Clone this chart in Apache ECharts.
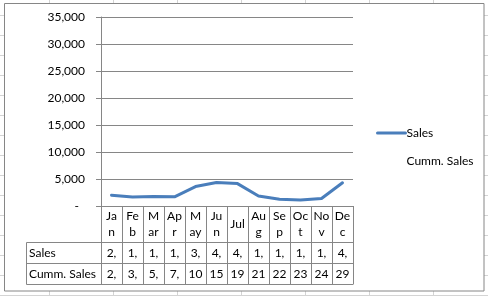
<!DOCTYPE html>
<html><head><meta charset="utf-8">
<script src="https://cdn.jsdelivr.net/npm/echarts@6/dist/echarts.min.js"></script>
<style>html,body{margin:0;padding:0;background:#fff}#c{width:488px;height:296px}</style>
</head><body><div id="c"></div>
<script>
const months = ['Jan','Feb','Mar','Apr','May','Jun','Jul','Aug','Sep','Oct','Nov','Dec'];
const headerLabels = ['Ja\nn','Fe\nb','M\nar','Ap\nr','M\nay','Ju\nn','Jul','Au\ng','Se\np','Oc\nt','No\nv','De\nc'];
const seriesNames = ['Sales','Cumm. Sales'];
const sales = [2000,1650,1750,1700,3600,4350,4150,1850,1250,1100,1400,4300];
const cummSales = [2000,3650,5400,7100,10700,15050,19200,21050,22300,23400,24800,29100];
const yMin = 0, yMax = 35000, yInterval = 5000;

const FONT = 'Lato';
const GRAY = '#868686';
const BLUE = '#4a7ebb';
const fmt = v => String(Math.round(v)).replace(/\B(?=(\d{3})+(?!\d))/g, ',');

const chart = echarts.init(document.getElementById('c'), null, {renderer:'canvas'});

// layout constants
const gridLeft = 101, gridTop = 17, gridRight = 135, gridBottom = 90;
const axisY = 296 - gridBottom;
const headH = 36, rowH = 21;
const tableLeft = 26.5;
const gridRightX = 488 - gridRight;

const bg = [];
[49,113,177,241,305,369,433].forEach(x => bg.push({type:'line', z:-2, silent:true,
  shape:{x1:x+0.5,y1:0,x2:x+0.5,y2:296}, style:{stroke:'#d4d4d4', lineWidth:1}}));
for (let y = 15; y < 296; y += 20) bg.push({type:'line', z:-2, silent:true,
  shape:{x1:0,y1:y+0.5,x2:488,y2:y+0.5}, style:{stroke:'#d4d4d4', lineWidth:1}});
bg.push({type:'rect', z:-1, silent:true, shape:{x:4.5,y:3.5,width:479.5,height:287.5},
  style:{fill:'#fff', stroke:GRAY, lineWidth:1}});
// table lines in row-label column
[axisY+headH, axisY+headH+rowH, axisY+headH+2*rowH].forEach(y => bg.push({type:'line', silent:true,
  shape:{x1:tableLeft, y1:y+0.5, x2:gridLeft, y2:y+0.5}, style:{stroke:GRAY, lineWidth:1}}));
bg.push({type:'line', silent:true, shape:{x1:gridLeft, y1:axisY+headH+2*rowH+0.5, x2:gridRightX+0.5, y2:axisY+headH+2*rowH+0.5}, style:{stroke:GRAY, lineWidth:1}});
bg.push({type:'line', silent:true, shape:{x1:tableLeft, y1:axisY+headH+0.5, x2:tableLeft, y2:axisY+headH+2*rowH+0.5}, style:{stroke:GRAY, lineWidth:1}});
seriesNames.forEach((n, i) => bg.push({type:'text', silent:true, x:29, y:axisY+headH+rowH*i+rowH/2+1,
  style:{text:n, font:'12px ' + FONT, fill:'#000', verticalAlign:'middle', align:'left'}}));

const rowAxis = (offset, values) => ({
  type:'category', data:months, position:'bottom', offset:offset, boundaryGap:true,
  axisLine:{show:true, lineStyle:{color:GRAY, width:1}},
  axisTick:{show:true, length:rowH, interval:0, lineStyle:{color:GRAY}},
  axisLabel:{interval:0, formatter:(v,i)=>fmt(values[i]), width:15, overflow:'truncate', ellipsis:'',
    color:'#000', fontFamily:FONT, fontSize:12, verticalAlign:'middle', margin:11},
  splitLine:{show:false}
});

chart.setOption({
  animation:false,
  textStyle:{fontFamily:FONT},
  grid:{left:gridLeft, top:gridTop, right:gridRight, bottom:gridBottom, outerBoundsMode:'none'},
  legend:{orient:'vertical', left:371, top:122, itemWidth:28, itemHeight:14, itemGap:16,
    textStyle:{fontFamily:FONT, fontSize:12, color:'#000', padding:[0,0,0,-4]},
    data:[{name:seriesNames[0], itemStyle:{opacity:0}, lineStyle:{width:3, color:BLUE}},
          {name:seriesNames[1], lineStyle:{opacity:0}, itemStyle:{opacity:0}}]},
  xAxis:[
    {type:'category', data:months, boundaryGap:true,
     axisLine:{show:true, lineStyle:{color:GRAY, width:1}},
     axisTick:{show:true, length:headH, interval:0, lineStyle:{color:GRAY}},
     axisLabel:{interval:0, formatter:(v,i)=>headerLabels[i], color:'#000', fontFamily:FONT, fontSize:12,
       lineHeight:16, verticalAlign:'middle', margin:18},
     splitLine:{show:false}},
    rowAxis(headH, sales),
    rowAxis(headH+rowH, cummSales)
  ],
  yAxis:{type:'value', min:yMin, max:yMax, interval:yInterval,
    axisLine:{show:true, lineStyle:{color:GRAY, width:1}},
    axisTick:{show:true, length:5, lineStyle:{color:GRAY}},
    axisLabel:{formatter:v => v === 0 ? '-  ' : fmt(v), color:'#000', fontFamily:FONT, fontSize:12, margin:16},
    splitLine:{show:true, lineStyle:{color:GRAY, width:1}}},
  series:[
    {name:seriesNames[0], type:'line', data:sales, symbol:'none', smooth:false,
     lineStyle:{color:BLUE, width:3, join:'round', cap:'round'}, itemStyle:{color:BLUE}},
    {name:seriesNames[1], type:'line', data:cummSales, symbol:'none', silent:true,
     lineStyle:{opacity:0}, itemStyle:{opacity:0}}
  ],
  graphic:bg
});
</script></body></html>
